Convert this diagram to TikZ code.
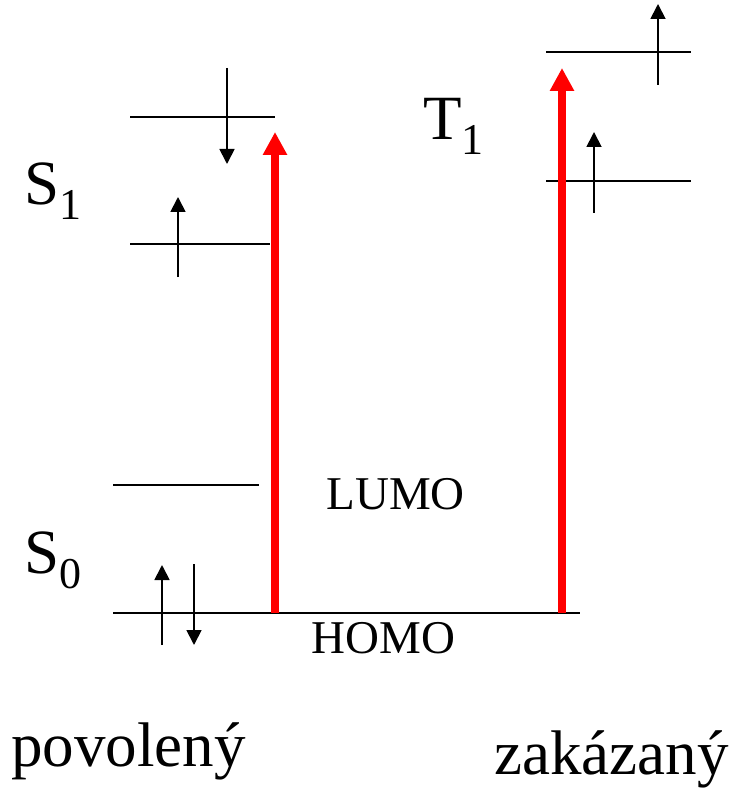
\documentclass[tikz,border=0pt]{standalone}
\usepackage{fontspec}
\setmainfont{Liberation Serif}
\usetikzlibrary{arrows.meta}
\begin{document}
\begin{tikzpicture}[x=1pt,y=-1pt,
  level/.style={line width=2pt,black},
  spin/.style={line width=1.8pt,black,-{Triangle[width=15pt,length=15pt]}},
  excite/.style={line width=8.5pt,red,-{Triangle[width=23pt,length=23pt]}},
  big/.style={inner sep=0pt,anchor=base west,font=\fontsize{31.5}{31.5}\selectfont,scale=2,transform shape},
  orb/.style={inner sep=0pt,anchor=base west,font=\fontsize{23.5}{23.5}\selectfont,scale=2,transform shape}]
\useasboundingbox (0,0) rectangle (734,794);
\newcommand{\subsc}[1]{{\fontsize{22}{22}\selectfont\raisebox{-7.5pt}{#1}}}
% levels
\coordinate (s1a) at (130,117); \coordinate (s1b) at (275,117);
\coordinate (s1c) at (130,244); \coordinate (s1d) at (270,244);
\coordinate (t1a) at (546,52);  \coordinate (t1b) at (691,52);
\coordinate (t1c) at (546,181); \coordinate (t1d) at (691,181);
\coordinate (lua) at (113,485); \coordinate (lub) at (259,485);
\coordinate (hoa) at (113,613); \coordinate (hob) at (580,613);
\draw[level] (s1a) -- (s1b);
\draw[level] (s1c) -- (s1d);
\draw[level] (t1a) -- (t1b);
\draw[level] (t1c) -- (t1d);
\draw[level] (lua) -- (lub);
\draw[level] (hoa) -- (hob);
% spins
\coordinate (sp1a) at (227,68);  \coordinate (sp1b) at (227,164);
\coordinate (sp2a) at (178,277); \coordinate (sp2b) at (178,197);
\coordinate (sp3a) at (658,85);  \coordinate (sp3b) at (658,4);
\coordinate (sp4a) at (594,213); \coordinate (sp4b) at (594,132);
\coordinate (sp5a) at (162,645); \coordinate (sp5b) at (162,565);
\coordinate (sp6a) at (194,564); \coordinate (sp6b) at (194,645);
\draw[spin] (sp1a) -- (sp1b);
\draw[spin] (sp2a) -- (sp2b);
\draw[spin] (sp3a) -- (sp3b);
\draw[spin] (sp4a) -- (sp4b);
\draw[spin] (sp5a) -- (sp5b);
\draw[spin] (sp6a) -- (sp6b);
% excitations
\coordinate (ra) at (275,613); \coordinate (rb) at (275,132);
\coordinate (rc) at (562,613); \coordinate (rd) at (562,68);
\draw[excite] (ra) -- (rb);
\draw[excite] (rc) -- (rd);
% labels
\node[big] (S1) at (24,205) {S\subsc{1}};
\node[big] (T1) at (423,140) {T\subsc{1}};
\node[big] (S0) at (24,573) {S\subsc{0}};
\node[orb] (lumo) at (326,509) {LUMO};
\node[orb] (homo) at (311,653) {HOMO};
\node[big] (pov) at (11,766) {povolený};
\node[big] (zak) at (494,774) {zakázaný};
\end{tikzpicture}
\end{document}
